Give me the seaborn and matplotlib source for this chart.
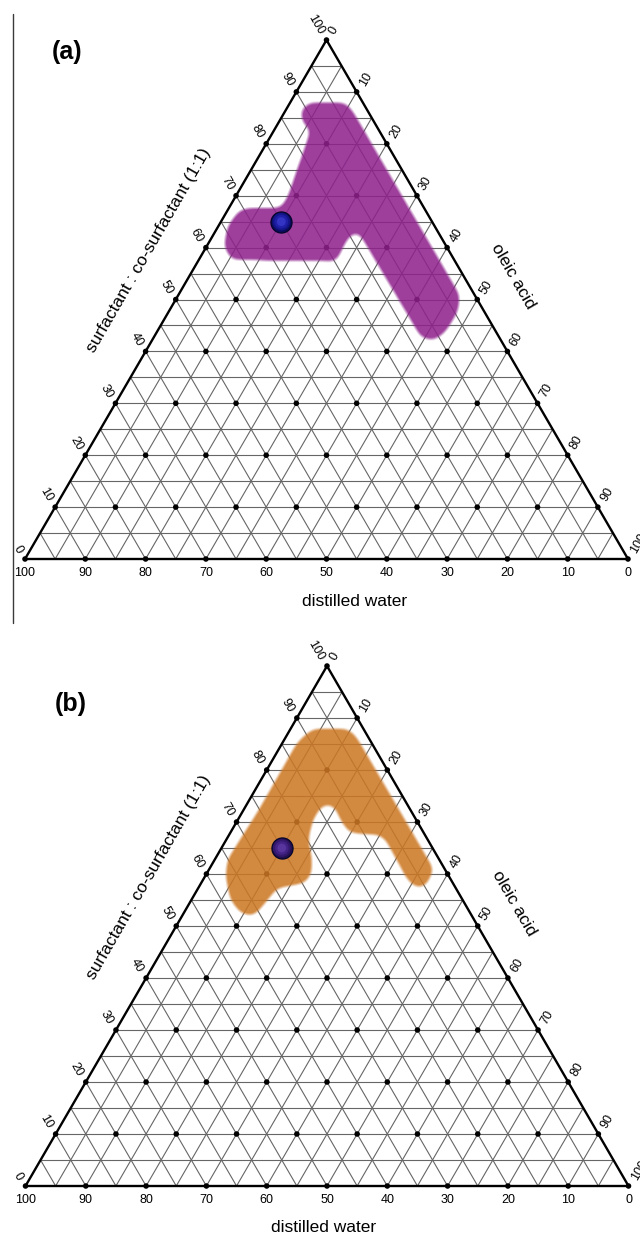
import numpy as np
import pandas as pd
import matplotlib
matplotlib.use("Agg")
import matplotlib.pyplot as plt
from matplotlib.path import Path
from matplotlib.lines import Line2D
import seaborn as sns

# ---------------- data ----------------
tick_values = [0, 10, 20, 30, 40, 50, 60, 70, 80, 90, 100]
grid_levels = [5, 10, 15, 20, 25, 30, 35, 40, 45, 50, 55, 60, 65, 70, 75, 80, 85, 90, 95]

axis_surfactant = "surfactant : co-surfactant (1:1)"
axis_oleic = "oleic acid"
axis_water = "distilled water"
panel_labels = ["(a)", "(b)"]

# microemulsion region (a): surfactant-mix % and oleic acid % along the boundary
region_a_surfactant = [88.0, 88.0, 86.2, 50.7, 47.6, 43.7, 42.0, 42.6, 45.3, 63.1, 62.6, 60.5,
                       57.3, 57.6, 60.2, 64.0, 66.9, 67.6, 67.6, 69.8, 82.7, 83.6, 84.9, 86.5]
region_a_oleic = [3.0, 9.0, 11.2, 46.7, 47.9, 47.8, 46.7, 44.3, 41.6, 23.6, 22.7, 22.6,
                  22.9, 5.3, 2.8, 1.5, 1.8, 2.8, 8.6, 8.6, 6.0, 4.4, 3.3, 2.5]

# microemulsion region (b)
region_b_surfactant = [86.4, 88.0, 88.0, 86.4, 60.8, 57.6, 57.2, 58.8, 66.5, 67.5, 67.8, 70.1,
                       72.95, 73.5, 72.95, 70.4, 66.5, 63.3, 60.1, 58.2, 57.25, 54.4, 51.8, 52.4,
                       55.0, 59.5, 62.7, 71.7, 80.6, 85.1]
region_b_oleic = [2.9, 3.8, 9.5, 11.7, 37.4, 37.6, 36.2, 34.0, 26.55, 24.95, 19.9, 17.35,
                  14.8, 13.45, 12.6, 12.5, 13.65, 15.85, 17.45, 17.3, 13.1, 12.6, 11.95, 9.5,
                  6.5, 3.45, 2.15, 2.55, 2.5, 2.45]

# selected formulation
point_surfactant = [65.0, 65.0]
point_oleic = [10.0, 10.0]

region_colors = [(0.56, 0.13, 0.55), (0.80, 0.47, 0.14)]
point_colors = [["#0b0b5e", "#15158a", "#1f1fa8", "#3434c4"],
                ["#22104f", "#34186e", "#432385", "#57359c"]]

# ---------------- helpers ----------------
SQ = np.sqrt(3) / 2


def tern_xy(s, o):
    s = np.asarray(s, float)
    o = np.asarray(o, float)
    return (o + s / 2.0) / 100.0, s / 100.0 * SQ


def blur(a, sigma):
    r = int(3 * sigma)
    t = np.arange(-r, r + 1)
    k = np.exp(-t ** 2 / (2 * sigma ** 2))
    k /= k.sum()
    a = np.apply_along_axis(lambda v: np.convolve(v, k, mode="same"), 1, a)
    a = np.apply_along_axis(lambda v: np.convolve(v, k, mode="same"), 0, a)
    return a


sns.set_theme(style="white", rc={"text.color": "black"})
plt.rcParams["font.family"] = ["Liberation Sans", "DejaVu Sans"]
plt.rcParams["text.color"] = "black"

W_PX, H_PX = 640, 1234
fig = plt.figure(figsize=(W_PX / 100, H_PX / 100), dpi=100)
fig.patch.set_facecolor("white")


def make_axes(top_px, bottom_px, base_y, apex_y, left_x, width_px):
    ax = fig.add_axes([0, 1 - bottom_px / H_PX, 1, (bottom_px - top_px) / H_PX])
    k = (base_y - apex_y) / SQ
    ax.set_xlim(-left_x / width_px, (W_PX - left_x) / width_px)
    ax.set_ylim((base_y - bottom_px) / k, (base_y - top_px) / k)
    ax.set_axis_off()
    return ax


def draw_panel(ax, reg_s, reg_o, reg_color, p_s, p_o, p_cols, water_dx):
    # grid
    for lv in grid_levels:
        for s_pair, o_pair in (([lv, lv], [0, 100 - lv]),
                               ([0, 100 - lv], [lv, lv]),
                               ([0, 100 - lv], [100 - lv, 0])):
            x, y = tern_xy(s_pair, o_pair)
            ax.plot(x, y, color="#666666", lw=0.8, zorder=1, solid_capstyle="butt")
    # frame
    x, y = tern_xy([0, 100, 0, 0], [0, 0, 100, 0])
    ax.plot(x, y, color="black", lw=1.7, zorder=4, solid_joinstyle="miter")

    # lattice dots
    pts = [(s, o) for s in tick_values for o in tick_values if s + o <= 100]
    lx, ly = tern_xy([p[0] for p in pts], [p[1] for p in pts])
    sns.scatterplot(x=lx, y=ly, s=16, color="black", edgecolor="none", ax=ax,
                    zorder=2, legend=False)

    # tick labels
    for t in tick_values:
        x, y = tern_xy(t, 0)
        ax.annotate(str(t), (x, y), xytext=(-5.5, 6), textcoords="offset pixels",
                    rotation=-60, ha="right", va="center", rotation_mode="anchor",
                    fontsize=9, color="black", zorder=6)
        x, y = tern_xy(100 - t, t)
        ax.annotate(str(t), (x, y), xytext=(5.5, 6.4), textcoords="offset pixels",
                    rotation=60, ha="left", va="center", rotation_mode="anchor",
                    fontsize=9, color="black", zorder=6, annotation_clip=False)
        x, y = tern_xy(0, 100 - t)
        ax.annotate(str(t), (x, y), xytext=(0, -14), textcoords="offset pixels",
                    ha="center", va="center", fontsize=9, color="black", zorder=6)

    # axis titles
    x, y = tern_xy(50, 0)
    ax.annotate(axis_surfactant, (x, y), xytext=(-27, 49), textcoords="offset pixels",
                rotation=60, ha="center", va="center", rotation_mode="anchor",
                fontsize=12.5, color="black")
    x, y = tern_xy(50, 50)
    ax.annotate(axis_oleic, (x, y), xytext=(36, 23), textcoords="offset pixels",
                rotation=-60, ha="center", va="center", rotation_mode="anchor",
                fontsize=12.5, color="black")
    x, y = tern_xy(0, 50)
    ax.annotate(axis_water, (x, y), xytext=(water_dx, -42), textcoords="offset pixels",
                ha="center", va="center", fontsize=12.5, color="black")

    # region (soft-edged)
    px, py = tern_xy(reg_s, reg_o)
    xs = np.linspace(-0.02, 1.02, 628)
    ys = np.linspace(-0.02, 0.89, 549)
    X, Y = np.meshgrid(xs, ys)
    inside = Path(np.column_stack([px, py])).contains_points(
        np.column_stack([X.ravel(), Y.ravel()])).reshape(X.shape).astype(float)
    b = blur(inside, 5.0)
    a = np.clip((b - 0.5) / 0.25 + 0.5, 0, 1)
    rgba = np.zeros(X.shape + (4,))
    rgba[..., 0], rgba[..., 1], rgba[..., 2] = reg_color
    rgba[..., 3] = a * 0.87
    ax.imshow(rgba, extent=[xs[0], xs[-1], ys[0], ys[-1]], origin="lower",
              interpolation="bilinear", aspect="auto", zorder=3)

    # formulation point (shaded sphere)
    qx, qy = tern_xy([p_s], [p_o])
    sizes = [230, 160, 95, 40]
    for i, (sz, c) in enumerate(zip(sizes, p_cols)):
        sns.scatterplot(x=qx, y=qy, s=sz, color=c,
                        edgecolor="#05052a" if i == 0 else "none",
                        linewidth=0.9 if i == 0 else 0, ax=ax, zorder=7 + i, legend=False)


ax_a = make_axes(0, 617, 559, 40, 25, 603)
draw_panel(ax_a, region_a_surfactant, region_a_oleic, region_colors[0],
           point_surfactant[0], point_oleic[0], point_colors[0], 28.5)

ax_b = make_axes(617, 1234, 1186, 666, 25.5, 603)
draw_panel(ax_b, region_b_surfactant, region_b_oleic, region_colors[1],
           point_surfactant[1], point_oleic[1], point_colors[1], -3)

fig.text(67.5 / W_PX, 1 - 52 / H_PX, panel_labels[0], fontsize=18, fontweight="bold",
         ha="center", va="center", color="black")
fig.text(71 / W_PX, 1 - 704 / H_PX, panel_labels[1], fontsize=18, fontweight="bold",
         ha="center", va="center", color="black")

fig.add_artist(Line2D([13 / W_PX, 13 / W_PX], [1 - 14 / H_PX, 1 - 623 / H_PX],
                      color="#3a3a3a", lw=1.0, transform=fig.transFigure))

fig.savefig("out.png", dpi=100, facecolor="white")
